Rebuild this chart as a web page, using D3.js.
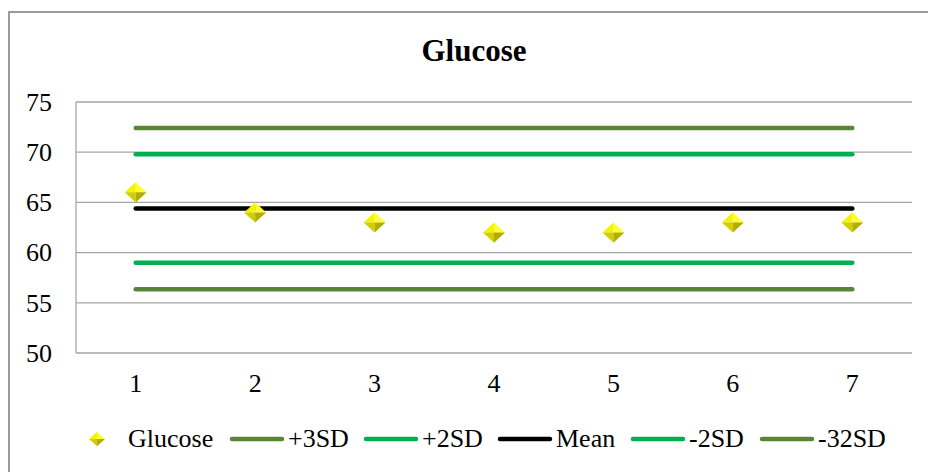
<!DOCTYPE html>
<html>
<head>
<meta charset="utf-8">
<script src="https://cdn.jsdelivr.net/npm/d3@7"></script>
<style>
  body { margin: 0; background: #fff; }
</style>
</head>
<body>
<script>
"use strict";

const width = 928;
const height = 472;
const serif = "'Liberation Serif', 'Times New Roman', serif";

// data
const runs = ["1", "2", "3", "4", "5", "6", "7"];
const glucose = [66, 64, 63, 62, 62, 63, 63];
const limitNames = ["+3SD", "+2SD", "Mean", "-2SD", "-32SD"];
const limitValues = [72.4, 69.8, 64.4, 59.0, 56.35];
const limitColors = ["#588538", "#00b050", "#000000", "#00b050", "#588538"];
const yTicks = [50, 55, 60, 65, 70, 75];

const margin = {top: 102, right: 16, bottom: 119, left: 76};

let svg = d3.select("body").append("svg")
    .attr("width", width)
    .attr("height", height);

// outer chart border
svg.append("rect")
    .attr("x", 9).attr("y", 12)
    .attr("width", width).attr("height", height)
    .attr("fill", "none")
    .attr("stroke", "#9a9a9a")
    .attr("stroke-width", 2);

let x = d3.scaleBand()
    .domain(runs)
    .range([margin.left, width - margin.right]);

let y = d3.scaleLinear()
    .domain([50, 75])
    .range([height - margin.bottom, margin.top]);

// gridlines
svg.append("g")
    .selectAll("line")
    .data(yTicks)
    .enter().append("line")
    .attr("x1", margin.left)
    .attr("x2", width - margin.right)
    .attr("y1", d => y(d))
    .attr("y2", d => y(d))
    .attr("stroke", "#a6a6a6")
    .attr("stroke-width", 1.3);

// left plot edge
svg.append("line")
    .attr("x1", margin.left).attr("x2", margin.left)
    .attr("y1", y(75)).attr("y2", y(50))
    .attr("stroke", "#a6a6a6")
    .attr("stroke-width", 1.3);

// y axis labels
let yAxis = svg.append("g")
    .attr("transform", `translate(${margin.left},0)`)
    .call(d3.axisLeft(y).tickValues(yTicks).tickSize(0).tickPadding(24))
    .attr("font-family", serif)
    .attr("font-size", 26);
yAxis.select(".domain").remove();

// x axis labels
let xAxis = svg.append("g")
    .attr("transform", `translate(0,${y(50)})`)
    .call(d3.axisBottom(x).tickSize(0).tickPadding(21))
    .attr("font-family", serif)
    .attr("font-size", 26);
xAxis.select(".domain").remove();

// control limit lines
let cx = d => x(d) + x.bandwidth() / 2;
svg.append("g")
    .selectAll("line")
    .data(limitValues)
    .enter().append("line")
    .attr("x1", cx(runs[0]))
    .attr("x2", cx(runs[runs.length - 1]))
    .attr("y1", d => y(d))
    .attr("y2", d => y(d))
    .attr("stroke", (d, i) => limitColors[i])
    .attr("stroke-width", 4.5)
    .attr("stroke-linecap", "round");

// shaded diamond marker
function diamond(g, px, py, r) {
    let h = r * 0.92;
    let faces = [
        {pts: [[px - r, py], [px, py - h], [px, py]], c: "#f4f400"},
        {pts: [[px, py - h], [px + r, py], [px, py]], c: "#ffff30"},
        {pts: [[px - r, py], [px, py + h], [px, py]], c: "#d2cf00"},
        {pts: [[px, py + h], [px + r, py], [px, py]], c: "#b3ad00"}
    ];
    g.selectAll(null)
        .data(faces)
        .enter().append("polygon")
        .attr("points", f => f.pts.map(p => p.join(",")).join(" "))
        .attr("fill", f => f.c);
}

let pts = svg.append("g");
glucose.forEach((v, i) => {
    diamond(pts.append("g"), cx(runs[i]), y(v), 11);
});

// title
svg.append("text")
    .attr("x", 474)
    .attr("y", 61)
    .attr("text-anchor", "middle")
    .attr("font-family", serif)
    .attr("font-size", 31)
    .attr("font-weight", "bold")
    .text("Glucose");

// legend
let legY = 439;
let leg = svg.append("g")
    .attr("font-family", serif)
    .attr("font-size", 26);
diamond(leg.append("g"), 97, legY, 8);
leg.append("text")
    .attr("x", 128).attr("y", legY + 8)
    .text("Glucose");

let legX = [230, 364, 498, 631, 760];
limitNames.forEach((n, i) => {
    leg.append("line")
        .attr("x1", legX[i] + 2).attr("x2", legX[i] + 52)
        .attr("y1", legY).attr("y2", legY)
        .attr("stroke", limitColors[i])
        .attr("stroke-width", 4.5)
        .attr("stroke-linecap", "round");
    leg.append("text")
        .attr("x", legX[i] + 58).attr("y", legY + 8)
        .text(n);
});
</script>
</body>
</html>
